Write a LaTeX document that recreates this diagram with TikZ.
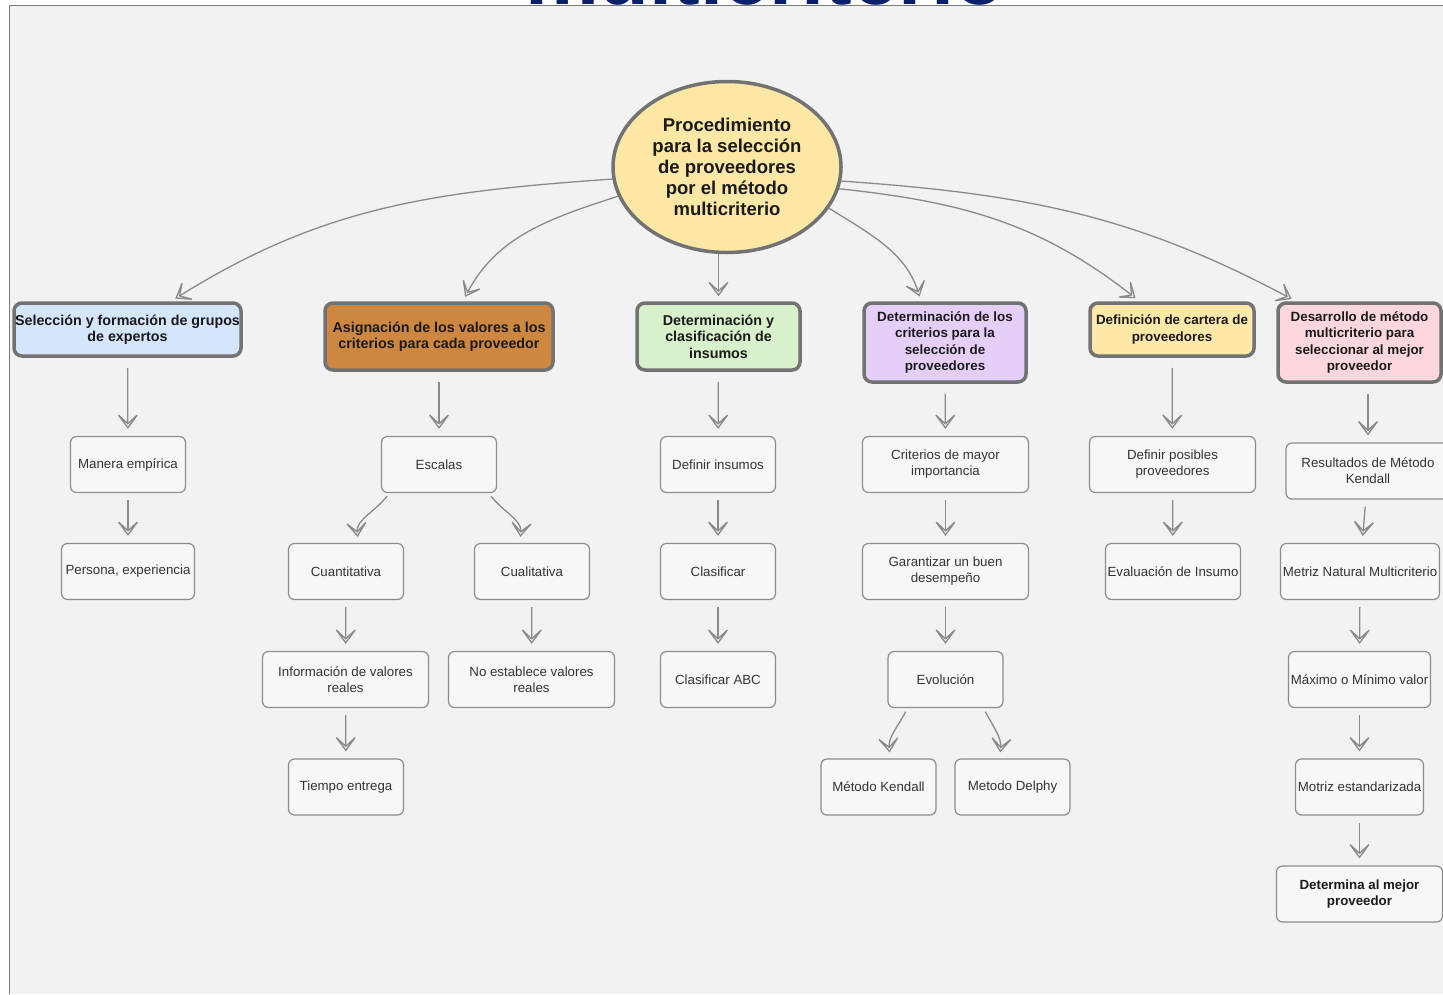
\documentclass[tikz,border=0pt]{standalone}
\usepackage{fontspec}
\setmainfont{Liberation Sans}
\usetikzlibrary{shapes.geometric, arrows.meta, positioning}

\definecolor{bggray}{HTML}{F2F2F2}
\definecolor{framegray}{HTML}{7A7A7A}
\definecolor{edgegray}{HTML}{727272}
\definecolor{thingray}{HTML}{8C8C8C}
\definecolor{linegray}{HTML}{8A8A8A}
\definecolor{boxfill}{HTML}{F7F7F7}
\definecolor{textdark}{HTML}{1A1A1A}
\definecolor{textgray}{HTML}{333333}
\definecolor{titlenavy}{HTML}{0B1F6B}
\definecolor{centeryellow}{HTML}{FDE7A5}
\definecolor{expblue}{HTML}{D5E5FB}
\definecolor{valorange}{HTML}{CD8740}
\definecolor{insgreen}{HTML}{D8F0CB}
\definecolor{critviolet}{HTML}{E5CFF9}
\definecolor{cartyellow}{HTML}{FDE8A8}
\definecolor{metpink}{HTML}{FDD7DD}

\tikzset{
  topbox/.style={draw=edgegray, line width=3.5pt, rounded corners=8pt, align=center, inner sep=1pt,
    font=\fontsize{14.3}{16.5}\selectfont\bfseries, text=textdark},
  narrowtop/.style={topbox, font=\fontsize{13.4}{16.3}\selectfont\bfseries},
  subbox/.style={draw=thingray, line width=1.2pt, rounded corners=6pt, fill=boxfill, align=center,
    inner sep=1pt, minimum height=56pt, font=\fontsize{13.3}{16}\selectfont, text=textgray},
  link/.style={draw=linegray, line width=1.3pt, -{Stealth[open, length=19pt, width=28pt, inset=13pt]}},
  flow/.style={link, shorten <=7pt, shorten >=7pt},
  topflow/.style={link, shorten <=10pt, shorten >=7pt},
}

\begin{document}
\begin{tikzpicture}[x=1pt, y=-1pt]
  \clip (0,0) rectangle (1443,994);
  \fill[white] (0,0) rectangle (1443,994);
  \fill[bggray] (9,5) rectangle (1443,994);
  \draw[framegray, line width=1pt] (9,994) -- (9,5) -- (1443,5);
  \node[font=\fontsize{83}{83}\selectfont\bfseries, text=titlenavy, anchor=base, inner sep=0pt] (title) at (765,4.5) {multicriterio};

  % Centro
  \node[ellipse, draw=edgegray, line width=3.5pt, fill=centeryellow, minimum width=228pt, minimum height=171pt,
    align=center, inner sep=0pt, font=\fontsize{18.5}{21}\selectfont\bfseries, text=textdark] (proc) at (727,167)
    {Procedimiento\\para la selección\\de proveedores\\por el método\\multicriterio};

  % Primer nivel
  \node[topbox, fill=expblue, minimum width=227pt, minimum height=53pt] (expertos) at (127.5,329.5)
    {Selección y formación de grupos\\de expertos};
  \node[topbox, fill=valorange, minimum width=228pt, minimum height=67pt] (valores) at (439,336.5)
    {Asignación de los valores a los\\criterios para cada proveedor};
  \node[topbox, fill=insgreen, minimum width=163pt, minimum height=67pt] (insumos) at (718.5,336.5)
    {Determinación y\\clasificación de\\insumos};
  \node[narrowtop, fill=critviolet, minimum width=162pt, minimum height=79pt] (criterios) at (945,342.5)
    {Determinación de los\\criterios para la\\selección de\\proveedores};
  \node[narrowtop, fill=cartyellow, minimum width=164pt, minimum height=53pt] (cartera) at (1172,329.5)
    {Definición de cartera de\\proveedores};
  \node[narrowtop, fill=metpink, minimum width=163pt, minimum height=79pt] (metodo) at (1359.5,342.5)
    {Desarrollo de método\\multicriterio para\\seleccionar al mejor\\proveedor};

  \draw[link, shorten >=5pt] (proc.186) to[out=184, in=32] (expertos.33);
  \draw[link, shorten >=5pt] (proc.195) to[out=198, in=62] (valores.56);
  \draw[link, shorten >=5pt] (proc.south -| insumos) -- (insumos.north);
  \draw[link, shorten >=5pt] (proc.-22) to[out=-32, in=108] (criterios.120);
  \draw[link, shorten >=5pt] (proc.-11) to[out=-6, in=142] (cartera.139);
  \draw[link, shorten >=5pt] (proc.-7) to[out=-4, in=152] (metodo.147);

  % Expertos
  \node[subbox, minimum width=115pt] (empirica) at (128,464.5) {Manera empírica};
  \node[subbox, minimum width=133pt] (persona) at (128,571.5) {Persona, experiencia};
  \draw[topflow] (expertos) -- (empirica);
  \draw[flow] (empirica) -- (persona);

  % Valores
  \node[subbox, minimum width=115pt] (escalas) at (439,464.5) {Escalas};
  \node[subbox, minimum width=115pt] (cuanti) at (346,571.5) {Cuantitativa};
  \node[subbox, minimum width=115pt] (cuali) at (532,571.5) {Cualitativa};
  \node[subbox, minimum width=166pt] (reales) at (345.5,679.5) {Información de valores\\reales};
  \node[subbox, minimum width=166pt] (noreales) at (531.5,679.5) {No establece valores\\reales};
  \node[subbox, minimum width=115pt] (entrega) at (346,787) {Tiempo entrega};
  \draw[topflow] (valores) -- (escalas);
  \draw[link, shorten <=4pt, shorten >=6pt] (escalas.-150) to[out=-128, in=95] (cuanti.67);
  \draw[link, shorten <=4pt, shorten >=6pt] (escalas.-30) to[out=-52, in=85] (cuali.113);
  \draw[flow] (cuanti) -- (reales);
  \draw[flow] (cuali) -- (noreales);
  \draw[flow] (reales) -- (entrega);

  % Insumos
  \node[subbox, minimum width=115pt] (definir) at (718,464.5) {Definir insumos};
  \node[subbox, minimum width=115pt] (clasificar) at (718,571.5) {Clasificar};
  \node[subbox, minimum width=115pt] (abc) at (718,679.5) {Clasificar ABC};
  \draw[topflow] (insumos) -- (definir);
  \draw[flow] (definir) -- (clasificar);
  \draw[flow] (clasificar) -- (abc);

  % Criterios
  \node[subbox, minimum width=166pt] (mayor) at (945.5,464.5) {Criterios de mayor\\importancia};
  \node[subbox, minimum width=166pt] (desempeno) at (945.5,571.5) {Garantizar un buen\\desempeño};
  \node[subbox, minimum width=115pt] (evolucion) at (945.5,679.5) {Evolución};
  \node[subbox, minimum width=115pt] (kendall) at (878.5,787) {Método Kendall};
  \node[subbox, minimum width=115pt] (delphy) at (1012.5,787) {Metodo Delphy};
  \draw[topflow] (criterios) -- (mayor);
  \draw[flow] (mayor) -- (desempeno);
  \draw[flow] (desempeno) -- (evolucion);
  \draw[link, shorten <=4pt, shorten >=6pt] (evolucion.-143) to[out=-118, in=95] (kendall.68);
  \draw[link, shorten <=4pt, shorten >=6pt] (evolucion.-37) to[out=-62, in=85] (delphy.114);

  % Cartera
  \node[subbox, minimum width=166pt] (posibles) at (1172.5,464.5) {Definir posibles\\proveedores};
  \node[subbox, minimum width=135pt] (evaluacion) at (1173,571.5) {Evaluación de Insumo};
  \draw[topflow] (cartera) -- (posibles);
  \draw[flow] (posibles) -- (evaluacion);

  % Metodo multicriterio
  \node[subbox, minimum width=164pt] (resultados) at (1368,471) {Resultados de Método\\Kendall};
  \node[subbox, minimum width=159pt] (natural) at (1360,571.5) {Metriz Natural Multicriterio};
  \node[subbox, minimum width=142pt] (maxmin) at (1359.5,679.5) {Máximo o Mínimo valor};
  \node[subbox, minimum width=128pt] (estandar) at (1359.5,787) {Motriz estandarizada};
  \node[subbox, minimum width=166pt, font=\fontsize{13.3}{16}\selectfont\bfseries, text=textdark] (mejor) at (1359.5,894)
    {Determina al mejor\\proveedor};
  \draw[topflow] (metodo.south -| resultados.north) -- (resultados.north);
  \draw[flow] (resultados) -- (natural);
  \draw[flow] (natural) -- (maxmin);
  \draw[flow] (maxmin) -- (estandar);
  \draw[flow] (estandar) -- (mejor);
\end{tikzpicture}
\end{document}
